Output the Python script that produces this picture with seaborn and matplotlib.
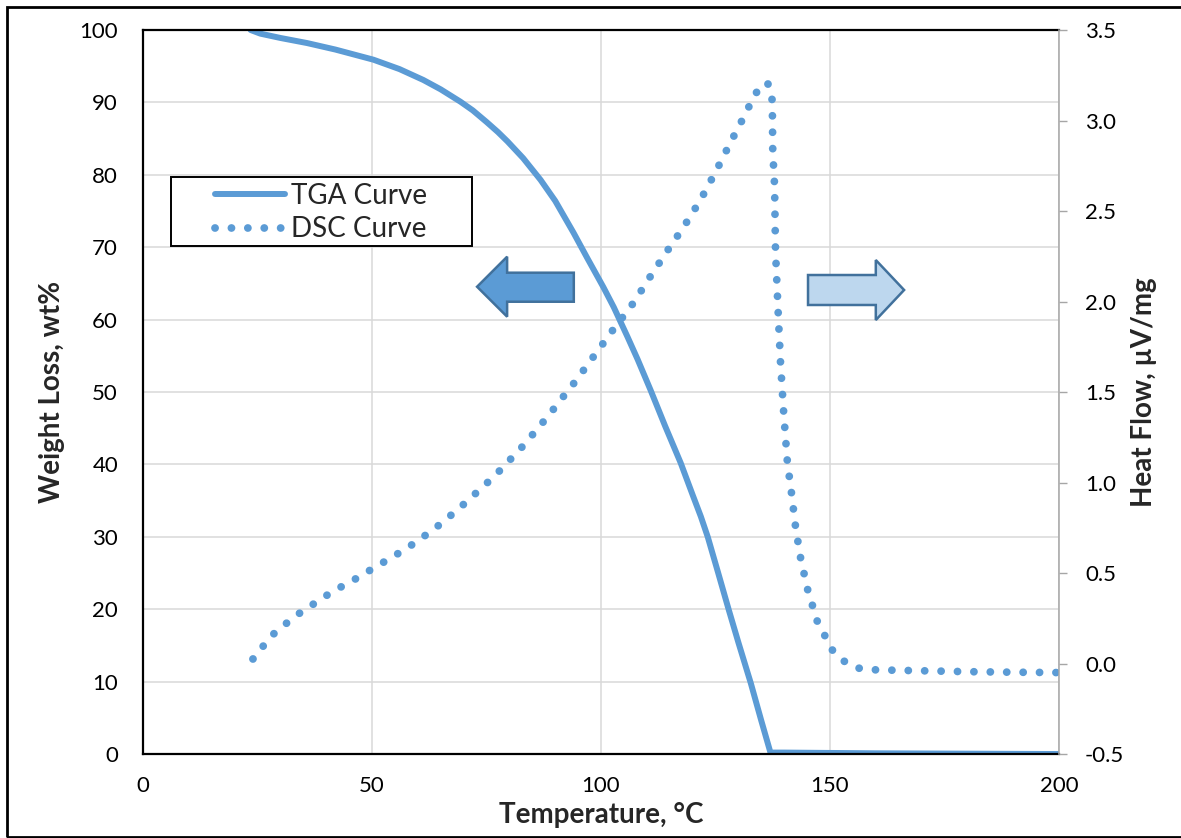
import numpy as np
import pandas as pd
import matplotlib
matplotlib.use("Agg")
import matplotlib.pyplot as plt
import seaborn as sns
from matplotlib.patches import Polygon, Rectangle
from matplotlib.ticker import FormatStrFormatter

# ---------------------------
# DATA
# ---------------------------
# TGA curve: temperature (°C) vs weight (wt%)
temp_tga = [23.5, 25.6, 30, 35.8, 42, 50.3, 56, 61.2, 65, 69.3, 72, 75, 77.5,
            79.6, 83, 86.8, 90, 94, 97, 100.5, 102.8, 105.8, 108, 110.8, 114,
            117.4, 120, 121.8, 123.3, 125.5, 127.9, 130, 132.7, 135, 137, 140,
            150, 160, 180, 200]
weight_tga = [100, 99.5, 98.9, 98.2, 97.3, 95.9, 94.6, 93.1, 91.8, 90.1, 88.9,
              87.3, 85.9, 84.6, 82.3, 79.3, 76.4, 72.0, 68.5, 64.5, 61.7, 57.6,
              54.5, 50.3, 45.3, 40.2, 35.8, 32.8, 30.0, 25.2, 19.9, 15.4, 9.8,
              4.6, 0.2, 0.2, 0.15, 0.1, 0.05, 0.0]

# DSC curve: temperature (°C) vs heat flow (µV/mg)
temp_dsc = [24.0, 26.2, 28.5, 31.2, 34.0, 37.0, 40.0, 43.0, 46.1, 49.2, 52.2,
            55.2, 58.3, 61.2, 64.1, 66.8, 69.5, 72.2, 74.8, 77.3, 79.8, 82.2,
            84.6, 86.9, 89.1, 91.3, 93.5, 95.6, 97.7, 99.8, 101.9, 104.0, 106.2,
            108.3, 110.1, 112.1, 114.2, 118.0, 121.7, 125.1, 128.3, 131.6,
            133.5, 135.0, 136.2, 137.1, 137.4, 137.5, 137.9, 138.1, 138.7,
            139.2, 139.9, 140.7, 141.6, 142.5, 143.6, 145.1, 147.2, 150.5,
            153.0, 156.0, 160.0, 170.0, 180.0, 190.0, 200.0]
heat_dsc = [0.025, 0.095, 0.163, 0.22, 0.275, 0.325, 0.375, 0.42, 0.463, 0.51,
            0.555, 0.60, 0.649, 0.70, 0.754, 0.81, 0.868, 0.93, 0.99, 1.05,
            1.117, 1.18, 1.251, 1.32, 1.388, 1.46, 1.529, 1.60, 1.673, 1.745,
            1.819, 1.89, 1.96, 2.04, 2.113, 2.189, 2.27, 2.41, 2.56, 2.72, 2.88,
            3.04, 3.14, 3.19, 3.21, 3.18, 3.10, 2.83, 2.64, 2.28, 1.93, 1.66,
            1.38, 1.11, 0.94, 0.75, 0.58, 0.41, 0.235, 0.075, 0.014, -0.025,
            -0.035, -0.04, -0.045, -0.048, -0.05]

x_ticks = [0, 50, 100, 150, 200]
left_ticks = list(range(0, 101, 10))
right_ticks = [-0.5, 0.0, 0.5, 1.0, 1.5, 2.0, 2.5, 3.0, 3.5]

tga = pd.DataFrame({"Temperature": temp_tga, "Weight": weight_tga})
dsc = pd.DataFrame({"Temperature": temp_dsc, "HeatFlow": heat_dsc})

BLUE = "#5B9BD5"
DARK = "#41719C"
LIGHT = "#BDD7EE"

# ---------------------------
# PLOT
# ---------------------------
sns.set_theme(style="white")
plt.rcParams["font.family"] = ["Lato", "DejaVu Sans"]
plt.rcParams["axes.unicode_minus"] = False

fig = plt.figure(figsize=(11.81, 8.38), dpi=100)
ax = fig.add_axes([0.1211, 0.1002, 0.7756, 0.864])
ax2 = ax.twinx()

sns.lineplot(data=tga, x="Temperature", y="Weight", ax=ax, color=BLUE,
             lw=4.3, solid_capstyle="round", legend=False)
sns.lineplot(data=dsc, x="Temperature", y="HeatFlow", ax=ax2, color=BLUE,
             lw=5.6, linestyle=(0, (0.01, 2.1)), dash_capstyle="round",
             legend=False)

ax.set_xlim(0, 200)
ax.set_ylim(0, 100)
ax2.set_ylim(-0.5, 3.5)
ax.set_xticks(x_ticks)
ax.set_yticks(left_ticks)
ax2.set_yticks(right_ticks)
ax2.yaxis.set_major_formatter(FormatStrFormatter("%.1f"))

ax.grid(True, color="#D9D9D9", lw=1.1)
ax.set_axisbelow(True)
ax2.grid(False)

ax.tick_params(axis="x", length=0, labelsize=16, pad=16, colors="black")
ax.tick_params(axis="y", length=0, labelsize=16, pad=18, colors="black")
ax2.tick_params(axis="y", length=5.8, width=1, color="#A6A6A6",
                labelsize=16, pad=13, labelcolor="black")

for side in ["left", "top", "bottom"]:
    ax.spines[side].set_color("black")
    ax.spines[side].set_linewidth(1.6)
    ax2.spines[side].set_visible(False)
ax.spines["right"].set_visible(False)
ax2.spines["right"].set_color("#A6A6A6")
ax2.spines["right"].set_linewidth(1.1)

ax.set_xlabel("Temperature, °C", fontsize=20, fontweight="bold")
ax.set_ylabel("Weight Loss, wt%", fontsize=20, fontweight="bold")
ax2.set_ylabel("Heat Flow, µV/mg", fontsize=20, fontweight="bold",
               rotation=90)
ax.xaxis.set_label_coords(0.5, -0.0843)
ax.yaxis.set_label_coords(-0.0995, 0.5)
ax2.yaxis.set_label_coords(1.0929, 0.5)
ax.xaxis.label.set_va("center")
ax.yaxis.label.set_va("center")
ax2.yaxis.label.set_va("center")

# legend with a hand drawn frame
frame = Rectangle((0.0303, 0.7017), 0.329, 0.0957, transform=ax2.transAxes,
                  facecolor="white", edgecolor="black", lw=1.4, zorder=5)
ax2.add_patch(frame)
handles = [ax.lines[0], ax2.lines[0]]
leg = ax2.legend(handles, ["TGA Curve", "DSC Curve"], loc="upper left",
                 bbox_to_anchor=(0.0787, 0.7890), borderaxespad=0,
                 borderpad=0, frameon=False, fontsize=20, handlelength=2.5,
                 handletextpad=0.25, labelspacing=0.27)
leg.set_zorder(6)

# direction arrows
left_arrow = [(0.3647, 0.6454), (0.3975, 0.6869), (0.3975, 0.6648),
              (0.4703, 0.6648), (0.4703, 0.6247), (0.3975, 0.6247),
              (0.3975, 0.6040)]
right_arrow = [(0.7260, 0.6616), (0.8, 0.6616), (0.8, 0.6823),
               (0.8309, 0.6409), (0.8, 0.5994), (0.8, 0.6202),
               (0.7260, 0.6202)]
ax2.add_patch(Polygon(left_arrow, closed=True, transform=ax2.transAxes,
                      facecolor=BLUE, edgecolor=DARK, lw=1.8, zorder=4))
ax2.add_patch(Polygon(right_arrow, closed=True, transform=ax2.transAxes,
                      facecolor=LIGHT, edgecolor=DARK, lw=1.8, zorder=4))

# outer border of the chart area
fig.patches.append(Rectangle((0.0059, 0.0012), 1.1, 0.9904,
                             transform=fig.transFigure, fill=False,
                             edgecolor="black", lw=2))

fig.savefig("out.png", dpi=100)
